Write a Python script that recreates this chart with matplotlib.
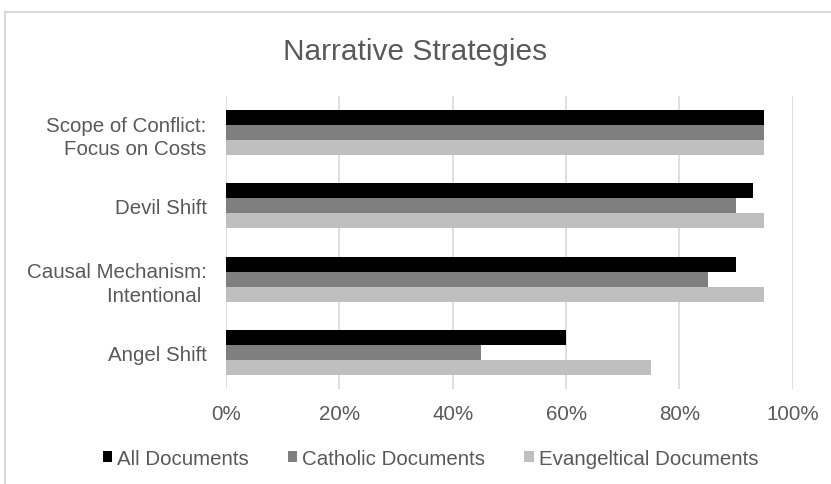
import matplotlib.pyplot as plt
from matplotlib.lines import Line2D
import numpy as np

plt.rcParams['font.family'] = ['Liberation Sans', 'DejaVu Sans']

# Share of documents using each narrative strategy
categories = ["Scope of Conflict:\nFocus on Costs", "Devil Shift",
              "Causal Mechanism:\nIntentional ", "Angel Shift"]
all_docs = [0.95, 0.93, 0.90, 0.60]
catholic_docs = [0.95, 0.90, 0.85, 0.45]
evangelical_docs = [0.95, 0.95, 0.95, 0.75]
series_names = ["All Documents", "Catholic Documents", "Evangeltical Documents"]
x_ticks = [0, 0.2, 0.4, 0.6, 0.8, 1.0]

TEXT = "#595959"
GRID = "#d9d9d9"
colors = ["#000000", "#7f7f7f", "#bfbfbf"]

fig = plt.figure(figsize=(8.31, 4.85), dpi=100)
ax = fig.add_axes([0.272, 0.196, 0.682, 0.604])

y = np.arange(len(categories))
h = 0.205
for i, (vals, name) in enumerate(zip([all_docs, catholic_docs, evangelical_docs], series_names)):
    ax.barh(y + (i - 1) * h, vals, height=h, color=colors[i], label=name, zorder=3)

ax.set_ylim(len(categories) - 0.5, -0.5)
ax.set_xlim(0, 1.0)
ax.set_xticks(x_ticks)
ax.set_xticklabels([f"{int(round(t * 100))}%" for t in x_ticks])
ax.set_yticks(y)
ax.set_yticklabels(categories, linespacing=1.3)
ax.tick_params(length=0, labelsize=14.8, colors=TEXT)
ax.tick_params(axis='x', pad=11)
ax.tick_params(axis='y', pad=14)
ax.grid(axis='x', color=GRID, lw=1.2, zorder=0)
for s in ax.spines.values():
    s.set_visible(False)

fig.text(0.5, 0.893, "Narrative Strategies", ha='center', va='center',
         fontsize=21.5, color=TEXT)

handles, labels = ax.get_legend_handles_labels()
fig.legend(handles, labels, loc='center', bbox_to_anchor=(0.518, 0.052), ncol=3,
           frameon=False, fontsize=14.8, labelcolor=TEXT, handlelength=0.45,
           handleheight=0.45, handletextpad=0.25, columnspacing=1.9)

# chart border
fig.add_artist(Line2D([0.006, 0.006], [0.0, 0.973], color=GRID, lw=1.5))
fig.add_artist(Line2D([0.006, 1.0], [0.973, 0.973], color=GRID, lw=1.5))

fig.savefig("out.png", dpi=100)
